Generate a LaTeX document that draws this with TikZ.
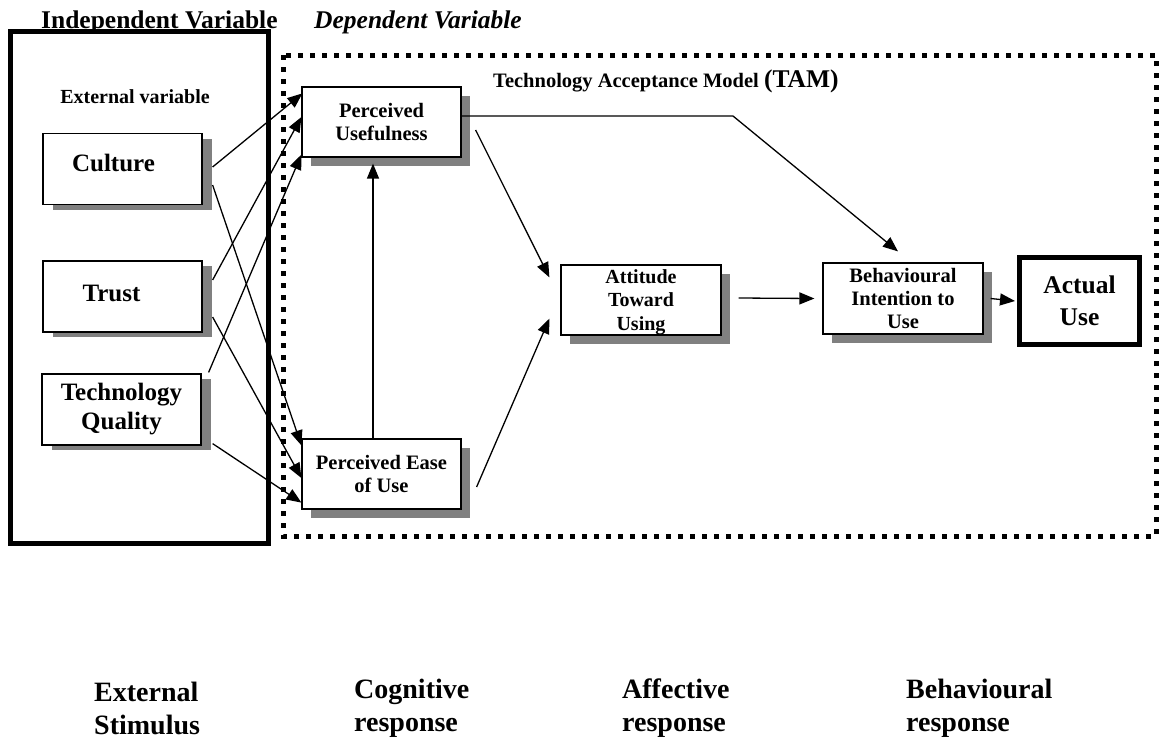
\documentclass[tikz,border=0pt]{standalone}
\usepackage{fontspec}
\setmainfont{Liberation Serif}
\usetikzlibrary{arrows.meta,shadows,calc}
\definecolor{shadowgray}{HTML}{808080}
\begin{document}
\begin{tikzpicture}[x=1pt,y=-1pt,
  box/.style={draw=black,line width=1.2pt,fill=white,minimum width=159pt,
    minimum height=70pt,inner sep=0pt,align=center,
    font=\fontsize{20.5}{22.5}\selectfont\bfseries},
  tamshadow/.style={drop shadow={shadow xshift=9pt,shadow yshift=-9pt,
    fill=shadowgray,opacity=1}},
  extshadow/.style={drop shadow={shadow xshift=10pt,shadow yshift=-5pt,
    fill=shadowgray,opacity=1}},
  extbox/.style={box,extshadow,minimum height=71pt,
    font=\fontsize{25}{29}\selectfont\bfseries},
  link/.style={line width=1.3pt,-{Triangle[length=15pt,width=12pt]}},
  heading/.style={anchor=base west,inner sep=0pt,
    font=\fontsize{25.5}{30}\selectfont\bfseries},
  stage/.style={anchor=west,align=left,inner sep=0pt,
    font=\fontsize{28}{33}\selectfont\bfseries},
]
\useasboundingbox (0,0) rectangle (1163,740);
\fill[white] (0,0) rectangle (1163,740);

% frames: independent variable block and the TAM block
\draw[line width=5pt] (10,31) rectangle (268,543);
\draw[line width=5pt,dash pattern=on 5pt off 7pt] (283,55) rectangle (1156,536);

% headings
\node[heading] (indep) at (41,28) {Independent Variable};
\node[heading,font=\fontsize{25.5}{30}\selectfont\bfseries\itshape] (dep) at (314,28) {Dependent Variable};
\node[font=\fontsize{20}{22}\selectfont\bfseries] (extvar) at (135,97) {External variable};
\node[anchor=base west,inner sep=0pt,font=\fontsize{20.5}{24}\selectfont\bfseries] (tam) at (493,87)
  {Technology Acceptance Model {\fontsize{25.5}{30}\selectfont(TAM)}};

% external variables
\node[extbox,text depth=12pt] (cult) at (122.5,169) {\hspace*{-18pt}Culture};
\node[extbox,text depth=6pt] (trust) at (122.5,296.5) {\hspace*{-22pt}Trust};
\node[extbox] (tq) at (121.5,409.5) {Technology\\Quality};

% TAM constructs
\node[box,tamshadow] (pu) at (381.5,122) {Perceived\\Usefulness};
\node[box,tamshadow] (peu) at (381.5,474) {Perceived Ease\\of Use};
\node[box,tamshadow,minimum width=160pt,minimum height=70pt,text depth=0pt,
  font=\fontsize{20}{23.5}\selectfont\bfseries] (att) at (641,300) {Attitude\\Toward\\Using};
\node[box,tamshadow,minimum width=160pt,minimum height=71pt,
  font=\fontsize{20.5}{23}\selectfont\bfseries] (bi) at (903,298.5) {Behavioural\\Intention to\\Use};
\node[draw,line width=5pt,fill=white,minimum width=120pt,minimum height=87pt,
  inner sep=0pt,align=center,font=\fontsize{25.5}{32}\selectfont\bfseries] (au) at (1079.5,301) {Actual\\Use};

% external variables -> perceptions
\draw[link] ([shift={(10,-2)}]cult.east) -- ([shift={(1,7)}]pu.north west);
\draw[link] ([shift={(10,16)}]cult.east) -- ([shift={(0,7)}]peu.north west);
\draw[link] ([shift={(10,-16.5)}]trust.east) -- ([shift={(0,-5)}]pu.west);
\draw[link] ([shift={(10,20.5)}]trust.east) -- ([shift={(0,4)}]peu.west);
\draw[link] ([shift={(7,-1)}]tq.north east) -- ([shift={(0,-3)}]pu.south west);
\draw[link] ([shift={(11,-2)}]tq.south east) -- ([shift={(0,-7)}]peu.south west);

% TAM relations
\draw[link] ([shift={(-8.5,0)}]peu.north) -- ([shift={(-8.5,6)}]pu.south);
\draw[link] ([shift={(14,8)}]pu.east) -- ([shift={(-11,13)}]att.north west);
\draw[link] ([shift={(15,13)}]peu.east) -- ([shift={(-11,-17)}]att.south west);
\coordinate (bend) at (733,116);
\draw[link] ([shift={(0,-6)}]pu.east) -- (bend) -- ([shift={(-5,-11)}]bi.north);
\draw[link] ([shift={(17,-2)}]att.east) -- ([shift={(-8,0)}]bi.west);
\draw[link] ([shift={(7,0)}]bi.east) -- ([shift={(-2,0)}]au.west);

% response stages
\node[stage] (s1) at (94,708) {External\\Stimulus};
\node[stage] (s2) at (354,708) {Cognitive\\response};
\node[stage] (s3) at (622,708) {Affective\\response};
\node[stage] (s4) at (906,708) {Behavioural\\response};
\end{tikzpicture}
\end{document}
